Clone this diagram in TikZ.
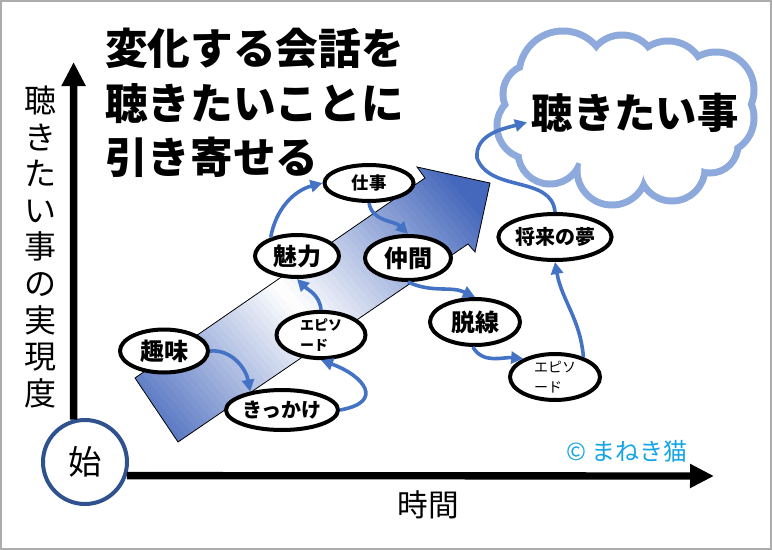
\documentclass[tikz,border=0pt]{standalone}
\usepackage{fontspec}
\setmainfont{Noto Sans CJK JP}[BoldFont={Noto Sans CJK JP Black}]
\usepackage{xcolor}
\usepackage{tikz}
\usetikzlibrary{shapes.geometric,arrows.meta}
\definecolor{flowBlue}{RGB}{68,114,196}
\definecolor{arrowBlue}{RGB}{70,104,188}
\definecolor{cloudBlue}{RGB}{142,170,220}
\definecolor{startBlue}{RGB}{47,82,143}
\definecolor{signCyan}{RGB}{20,165,230}
\newdimen\pxu \pxu=0.75pt
\newcommand{\puffs}{563/75/40.5, 622/70/31.5, 668/78/33.5, 716/90/34.5, 718/118/32.5, 710/145/24.5,
  672/168/29.5, 612/170/31.5, 550/152/28.5, 530/126/29.5, 533/94/26.5}

\begin{document}
\begin{tikzpicture}[x=0.75pt,y=-0.75pt,
  bubble/.style={ellipse,draw=black,line width=3pt,fill=white,inner sep=0pt},
  flow/.style={-{Triangle[length=9pt,width=9pt]},draw=flowBlue,line width=2.7pt},
  axisline/.style={-{Triangle[length=18pt,width=17pt]},line width=5.5pt}]

\useasboundingbox (0,0) rectangle (772,550);
\draw[gray!65,line width=1.5pt] (1,1) rectangle (771,549);

%─── Title ───────────────────────────────────────────────────────────────────
\node[anchor=west,align=left,inner sep=0pt,font=\bfseries\fontsize{32}{41}\selectfont]
  (title) at (105,103) {変化する会話を\\聴きたいことに\\引き寄せる};

%─── Big rising arrow (dark ends, pale middle) ────────────────────────────────
\begin{scope}
  \clip (135,378) -- (425,178) -- (417,167) -- (490,183) -- (475,252) -- (468,244) -- (178,442) -- cycle;
  \begin{scope}[shift={(300,310)},rotate=40]
    \foreach \t in {-204,-198,...,240}{
      \pgfmathtruncatemacro\pct{min(100,abs(\t+3)/2)}
      \fill[arrowBlue!\pct!white] (\t,-320) rectangle ++(7,640);
    }
  \end{scope}
\end{scope}
\draw[line width=0.6pt]
  (135,378) -- (425,178) -- (417,167) -- (490,183) -- (475,252) -- (468,244) -- (178,442) -- cycle;

%─── Goal cloud: stroke all puffs, then paint them white ─────────────────────
\foreach \cx/\cy/\r in \puffs
  \draw[cloudBlue,line width=10.5pt] (\cx,\cy) circle[radius=\r];
\foreach \cx/\cy/\r in \puffs
  \fill[white] (\cx,\cy) circle[radius=\r];
\fill[white] (625,118) ellipse[x radius=92,y radius=52];
\node[font=\bfseries\fontsize{31}{36}\selectfont] (wish) at (635,113) {聴きたい事};

%─── Axes ────────────────────────────────────────────────────────────────────
\node[ellipse,draw=startBlue,line width=3pt,fill=white,minimum width=84\pxu,minimum height=84\pxu,
  font=\fontsize{25}{28}\selectfont] (origin) at (85,462) {始};
\coordinate (ytop) at (73.6,62);
\coordinate (xend) at (714,476);
\draw[axisline] (origin.105) -- (ytop);
\draw[axisline] (origin.-18) -- (xend);
\node[align=center,inner sep=0pt,font=\fontsize{24}{27.4}\selectfont]
  (ylabel) at (40,247) {聴\\き\\た\\い\\事\\の\\実\\現\\度};
\node[font=\fontsize{23}{26}\selectfont] (xlabel) at (428,505) {時間};
\node[text=signCyan,font=\fontsize{18}{20}\selectfont] (sign) at (627,451) {© まねき猫};

%─── Topics ──────────────────────────────────────────────────────────────────
\node[bubble,minimum width=88\pxu,minimum height=43\pxu,font=\bfseries\fontsize{18}{20}\selectfont]
  (shumi) at (164,351) {趣味};
\node[bubble,minimum width=91\pxu,minimum height=40\pxu,font=\bfseries\fontsize{15}{17}\selectfont]
  (kikkake) at (282,410) {きっかけ};
\node[bubble,minimum width=89\pxu,minimum height=46\pxu,align=left,font=\bfseries\fontsize{10.5}{15}\selectfont]
  (episode1) at (321,335) {エピソ\\ード};
\node[bubble,minimum width=84\pxu,minimum height=42\pxu,font=\bfseries\fontsize{18}{20}\selectfont]
  (miryoku) at (297,256) {魅力};
\node[bubble,minimum width=89\pxu,minimum height=36\pxu,font=\bfseries\fontsize{13}{15}\selectfont]
  (shigoto) at (369,183) {仕事};
\node[bubble,minimum width=86\pxu,minimum height=44\pxu,font=\bfseries\fontsize{18}{20}\selectfont]
  (nakama) at (408,258) {仲間};
\node[bubble,minimum width=90\pxu,minimum height=46\pxu,font=\bfseries\fontsize{18}{20}\selectfont]
  (dassen) at (475,322) {脱線};
\node[bubble,minimum width=90\pxu,minimum height=46\pxu,align=left,font=\fontsize{10.5}{15}\selectfont]
  (episode2) at (555,377) {エピソ\\ード};
\node[bubble,minimum width=91\pxu,minimum height=46\pxu,font=\bfseries\fontsize{15}{17}\selectfont]
  (dream) at (555,237) {将来の夢};

%─── Flow of the talk ────────────────────────────────────────────────────────
\coordinate (bend) at (477,158);
\draw[flow] (shumi.east) to[out=5,in=100] (kikkake.150);
\draw[flow] (kikkake.east) to[out=10,in=-20,looseness=2.2] (episode1.south);
\draw[flow] (episode1.north) to[out=95,in=-45] (miryoku.south);
\draw[flow] (miryoku.145) to[out=80,in=195] (shigoto.west);
\draw[flow] (shigoto.south) to[out=-80,in=135] (nakama.north);
\draw[flow] (nakama.south) to[out=-25,in=155] (dassen.north);
\draw[flow] (dassen.-95) to[out=-60,in=175] (episode2.150);
\draw[flow] (episode2.35) to[out=95,in=-80] (dream.south);
\draw[flow] (dream.north) to[out=95,in=-70] (bend) to[out=95,in=195] ([yshift=-7pt]wish.west);

\end{tikzpicture}
\end{document}
